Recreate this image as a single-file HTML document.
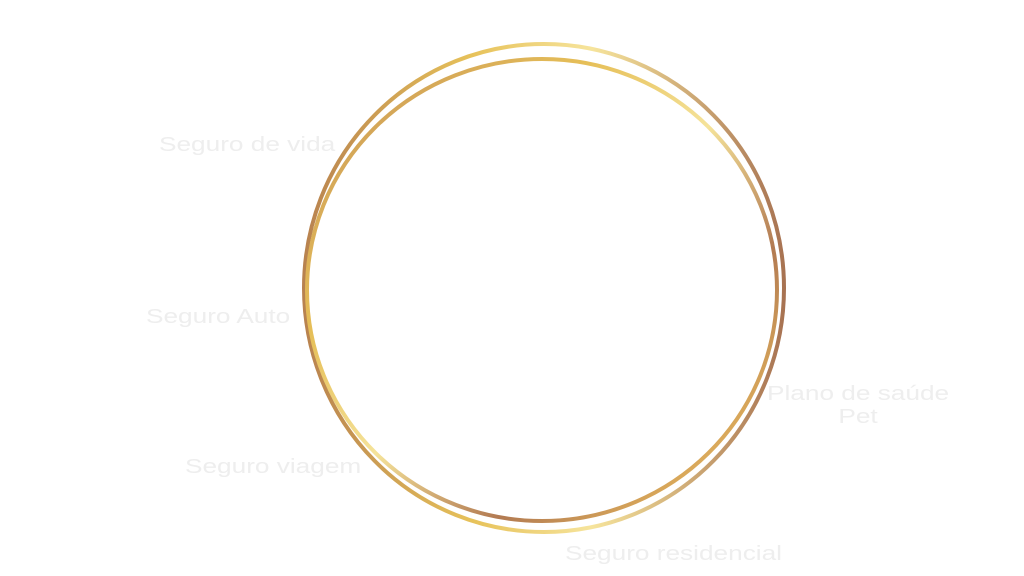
<!DOCTYPE html>
<html><head><meta charset="utf-8"><style>
html,body{margin:0;padding:0;background:#fff;width:1024px;height:576px;overflow:hidden;position:relative;font-family:"Liberation Sans",sans-serif}
.t{position:absolute;color:#eeeeee;font-size:20px;white-space:nowrap;text-align:center;transform:scaleX(1.31);transform-origin:0 0}
svg{position:absolute;left:0;top:0}
</style></head><body>
<svg width="1024" height="576">
<defs>
<linearGradient id="g" x1="0" y1="0" x2="1" y2="1">
<stop offset="0" stop-color="#c49058"/>
<stop offset="0.3" stop-color="#e6bf58"/>
<stop offset="0.5" stop-color="#f5e39a"/>
<stop offset="0.7" stop-color="#b27a52"/>
<stop offset="0.85" stop-color="#d9a85a"/>
<stop offset="1" stop-color="#f5e39a"/>
</linearGradient>
<linearGradient id="g2" x1="0" y1="0" x2="1" y2="0">
<stop offset="0" stop-color="#b8824f"/>
<stop offset="0.35" stop-color="#e7c25a"/>
<stop offset="0.6" stop-color="#f6e49c"/>
<stop offset="1" stop-color="#a87352"/>
</linearGradient>
</defs>
<ellipse cx="544" cy="288" rx="240" ry="244" fill="none" stroke="url(#g2)" stroke-width="4"/>
<ellipse cx="542" cy="290" rx="235" ry="231" fill="none" stroke="url(#g)" stroke-width="4"/>
</svg>
<div class="t" style="left:159px;top:134px">Seguro de vida</div>
<div class="t" style="left:146px;top:306px">Seguro Auto</div>
<div class="t" style="left:185px;top:456px">Seguro viagem</div>
<div class="t" style="left:767px;top:383px;line-height:23px">Plano de saúde<br>Pet</div>
<div class="t" style="left:565px;top:543px">Seguro residencial</div>
</body></html>
